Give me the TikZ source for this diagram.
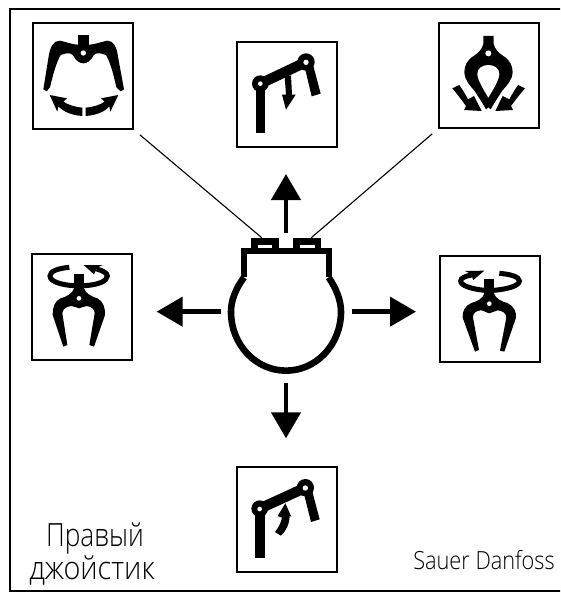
\documentclass[tikz,border=0pt]{standalone}
\usepackage{fontspec}
\setmainfont{PT Sans}
\newfontfamily\lightfont{Open Sans Light}
\usetikzlibrary{arrows.meta}
\tikzset{
  x=1pt,y=-1pt,
  iconbox/.style={draw=black,line width=2pt,fill=white,minimum width=100pt,inner sep=0pt,outer sep=0pt},
  ink/.style={fill=black,draw=none},
  hole/.style={fill=white,draw=none},
  move/.style={line width=4.4pt,-{Triangle[length=26pt,width=29pt]}},
  lead/.style={line width=1.1pt},
  zm/.style={x=0.33333pt,y=-0.33333pt},
  labeltext/.style={inner sep=0pt,anchor=base}
}
\begin{document}
\begin{tikzpicture}
\useasboundingbox (0,0) rectangle (560,594);
\clip (0,0) rectangle (560,594);
\draw[line width=2pt] (10,9) rectangle (565,591);

% icon frames
\node[iconbox,minimum height=106pt] (boxTL) at (83,76) {};
\node[iconbox,minimum height=105pt] (boxTC) at (287,94.5) {};
\node[iconbox,minimum height=105pt] (boxTR) at (489,75.5) {};
\node[iconbox,minimum height=106pt] (boxL) at (82,307) {};
\node[iconbox,minimum height=106pt] (boxR) at (490,309) {};
\node[iconbox,minimum height=105pt] (boxB) at (287,519) {};

% top-left gripper
\begin{scope}[shift={(20,10)},zm]
\fill[ink] (175,75) rectangle (207,110);
\fill[ink] (175,104) -- (207,104) .. controls (220,104) and (235,98) .. (262,92) .. controls (280,92) and (290,110) .. (294,140) -- (312,238) -- (302,244) -- (289,232)
  .. controls (280,190) and (270,155) .. (258,135) .. controls (240,128) and (228,128) .. (222,135)
  .. controls (212,152) and (202,160) .. (190,160) .. controls (178,160) and (168,152) .. (158,135)
  .. controls (152,128) and (140,128) .. (122,135) .. controls (110,155) and (100,190) .. (90,232) -- (80,244) -- (70,238)
  -- (85,145) .. controls (90,110) and (100,92) .. (120,92) .. controls (145,98) and (160,104) .. (175,104) -- cycle;
\fill[hole] (190,129) circle[radius=8];
% arrows
\fill[ink] (89,255) -- (141,265) -- (130,275) .. controls (145,285) and (165,291) .. (187,293) -- (187,318)
  .. controls (155,316) and (130,305) .. (115,289) -- (112,305) -- cycle;
\fill[ink] (295,255) -- (243,265) -- (254,275) .. controls (240,285) and (220,291) .. (197,293) -- (197,318)
  .. controls (228,316) and (255,305) .. (268,289) -- (271,305) -- cycle;
\end{scope}

% top-right gripper
\begin{scope}[shift={(280,10)},zm]
\fill[ink] (610,78) -- (641,78) -- (641,102) .. controls (645,118) and (655,128) .. (670,138)
  .. controls (690,150) and (698,168) .. (698,187) .. controls (698,205) and (685,222) .. (666,243)
  -- (640,284) -- (632,298) -- (625,292) -- (618,298) -- (610,284) -- (584,243)
  .. controls (565,222) and (553,205) .. (553,187) .. controls (553,168) and (561,150) .. (581,138)
  .. controls (596,128) and (606,118) .. (610,102) -- cycle;
\fill[hole] (625,130) circle[radius=9];
\fill[hole] (625,165) .. controls (643,165) and (658,175) .. (658,192) .. controls (658,208) and (640,238) .. (625,263)
  .. controls (610,238) and (592,208) .. (592,192) .. controls (592,175) and (607,165) .. (625,165) -- cycle;
\fill[ink] (517,235) -- (538,225) .. controls (548,240) and (556,252) .. (564,268) -- (582,258) -- (605,303) -- (552,300) -- (558,288)
  .. controls (545,270) and (530,250) .. (517,235) -- cycle;
\fill[ink] (735,235) -- (714,225) .. controls (704,240) and (696,252) .. (688,268) -- (668,258) -- (646,303) -- (699,300) -- (693,288)
  .. controls (706,270) and (722,250) .. (735,235) -- cycle;
\end{scope}

% left gripper
\begin{scope}[shift={(20,245)},zm]
\fill[ink] (162,88) rectangle (192,140);
\fill[ink] (162,130) -- (192,130) .. controls (196,145) and (215,155) .. (232,160) .. controls (250,168) and (256,190) .. (255,210)
  -- (222,305) -- (208,300) -- (224,205) .. controls (224,192) and (215,185) .. (200,183)
  .. controls (190,182) and (187,190) .. (177,190) .. controls (167,190) and (164,182) .. (154,183)
  .. controls (138,185) and (128,192) .. (127,205) -- (142,300) -- (130,305) -- (98,210)
  .. controls (97,190) and (103,168) .. (122,160) .. controls (140,155) and (158,145) .. (162,130) -- cycle;
\fill[hole] (177,160) circle[radius=7];
\draw[line width=5pt] (148,67) .. controls (115,70) and (90,78) .. (90,93) .. controls (90,110) and (125,120) .. (162,122);
\draw[line width=5pt] (192,122) .. controls (235,120) and (262,108) .. (262,93) .. controls (262,85) and (250,77) .. (230,72);
\fill[ink] (191,60) -- (248,60) -- (232,68) -- (222,88) -- cycle;
\end{scope}

% right gripper
\begin{scope}[shift={(430,245)},zm]
\fill[ink] (163,103) rectangle (192,150);
\fill[ink] (163,145) -- (192,145) .. controls (196,160) and (215,170) .. (232,174) .. controls (250,182) and (260,200) .. (258,218)
  -- (223,320) -- (210,317) -- (229,218) .. controls (229,205) and (218,197) .. (203,196)
  .. controls (192,196) and (188,205) .. (178,205) .. controls (168,205) and (164,196) .. (152,196)
  .. controls (138,197) and (128,205) .. (129,218) -- (147,315) -- (135,320) -- (98,218)
  .. controls (96,200) and (105,182) .. (124,174) .. controls (140,170) and (160,160) .. (163,145) -- cycle;
\fill[hole] (178,176) circle[radius=7];
\draw[line width=5pt] (208,85) .. controls (245,88) and (268,96) .. (268,108) .. controls (268,122) and (235,132) .. (192,136);
\draw[line width=5pt] (163,136) .. controls (125,132) and (92,122) .. (92,108) .. controls (92,100) and (105,93) .. (125,90);
\fill[ink] (163,77) -- (105,78) -- (122,86) -- (130,105) -- cycle;
\end{scope}

% top-centre boom
\begin{scope}[shift={(237,42)},zm]
\fill[ink] (57,125) rectangle (85,273);
\fill[ink] (70,108) -- (207,43) -- (207,77) -- (70,142) -- cycle;
\fill[ink] (70,125) circle[radius=25];
\fill[ink] (207,60) circle[radius=26];
\fill[ink] (203,75) -- (228,68) -- (251,155) -- (224,163) -- cycle;
\fill[hole] (70,125) circle[radius=7];
\fill[hole] (207,61) circle[radius=8];
\fill[ink] (143,105) -- (162,100) -- (165,158) -- (176,158) -- (147,203) -- (135,158) -- (147,158) -- cycle;
\end{scope}

% bottom boom
\begin{scope}[shift={(237,466)},zm]
\fill[ink] (55,130) rectangle (83,275);
\fill[ink] (68,111) -- (205,48) -- (205,82) -- (68,145) -- cycle;
\fill[ink] (68,128) circle[radius=25];
\fill[ink] (205,65) circle[radius=26];
\fill[ink] (200,80) -- (225,73) -- (248,160) -- (222,168) -- cycle;
\fill[hole] (68,129) circle[radius=7];
\fill[hole] (205,66) circle[radius=8];
\fill[ink] (145,112) -- (163,152) -- (158,150) .. controls (157,175) and (147,195) .. (132,209) -- (114,198)
  .. controls (124,185) and (132,170) .. (135,155) -- (122,150) -- cycle;
\end{scope}

% joystick body
\begin{scope}[shift={(150,170)},zm]
\draw[line width=6pt,line join=miter] (282,322) -- (282,242) -- (536,242) -- (536,322);
\draw[line width=6.6pt] (282,322) .. controls (258,355) and (243,390) .. (243,425)
  .. controls (243,525) and (318,602) .. (408,602) .. controls (498,602) and (573,525) .. (573,425)
  .. controls (573,390) and (558,355) .. (536,322);
\node[ink,minimum width=28pt,minimum height=10pt,inner sep=0pt,outer sep=0pt] (btnL) at (345,218) {};
\node[ink,minimum width=28pt,minimum height=10pt,inner sep=0pt,outer sep=0pt] (btnR) at (472,218) {};
\fill[hole] (323,225) rectangle (367,233);
\fill[hole] (450,225) rectangle (494,233);
\coordinate (upA) at (408,190);   \coordinate (upB) at (408,12);
\coordinate (leftA) at (212,425); \coordinate (leftB) at (20,425);
\coordinate (rightA) at (606,425);\coordinate (rightB) at (798,425);
\coordinate (downA) at (408,640); \coordinate (downB) at (408,805);
\coordinate (leadL) at (335,203); \coordinate (leadR) at (484,203);
\end{scope}

\draw[move] (upA) -- (upB);
\draw[move] (leftA) -- (leftB);
\draw[move] (rightA) -- (rightB);
\draw[move] (downA) -- (downB);

\draw[lead,shorten <=9pt] (boxTL.south east) -- (leadL);
\draw[lead,shorten <=9pt] (boxTR.south west) -- (leadR);

% labels
\node[labeltext,font=\lightfont\fontsize{32}{32}\selectfont,xscale=0.82] (lab1) at (95,546) {Правый};
\node[labeltext,font=\lightfont\fontsize{32}{32}\selectfont,xscale=0.9] (lab2) at (92,579) {джойстик};
\node[labeltext,font=\lightfont\fontsize{25}{25}\selectfont,xscale=0.87] (lab3) at (484,569) {Sauer Danfoss};
\end{tikzpicture}
\end{document}
